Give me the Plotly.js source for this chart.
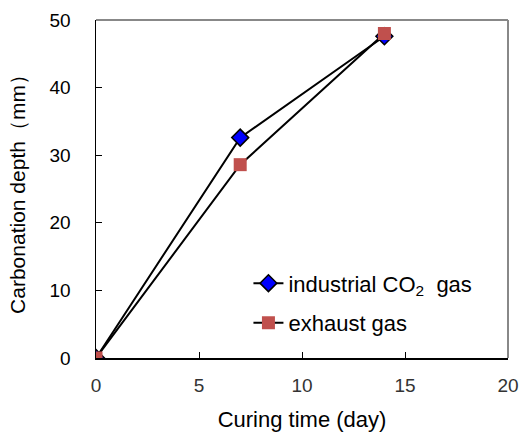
<!DOCTYPE html>
<html><head><meta charset="utf-8">
<script src="https://cdn.plot.ly/plotly-3.0.1.min.js"></script>
<style>body{margin:0}#c{width:519px;height:432px}</style>
</head><body><div id="c"></div>
<script>
const days = [0, 7, 14];
const industrialCO2 = [0, 32.6, 47.6];
const exhaustGas = [0, 28.6, 48.0];
const seriesNames = ['industrial CO<sub>2</sub>  gas', 'exhaust gas'];

const fam = 'Arial, "Liberation Sans", sans-serif';
const traces = [
  {x: days, y: industrialCO2, name: seriesNames[0], mode: 'lines+markers', legendgroup: 'a',
   line: {color: '#000', width: 2},
   marker: {symbol: 'diamond', size: 13, color: '#0000FF', line: {color: '#000', width: 1.5}}},
  {x: days, y: exhaustGas, name: seriesNames[1], mode: 'lines+markers', legendgroup: 'b',
   line: {color: '#000', width: 2},
   marker: {symbol: 'square', size: 13, color: '#C0504D', line: {width: 0}}}
];
const layout = {
  width: 519, height: 432,
  margin: {l: 96, r: 11, t: 20, b: 74},
  paper_bgcolor: '#fff', plot_bgcolor: '#fff',
  font: {family: fam, size: 19, color: '#000'},
  showlegend: true,
  legend: {x: 0.37, y: 0.283, xanchor: 'left', yanchor: 'top', bgcolor: 'rgba(0,0,0,0)',
           font: {family: fam, size: 22, color: '#000'}, tracegroupgap: 8},
  xaxis: {range: [0, 20], dtick: 5, ticks: 'inside', ticklen: 6, tickcolor: '#000',
          showgrid: false, zeroline: false, showline: true, linecolor: '#000', linewidth: 1.5,
          ticklabelstandoff: 10,
          tickfont: {family: fam, size: 19, color: '#333'},
          title: {text: 'Curing time (day)', standoff: 18, font: {family: fam, size: 22, color: '#000'}}},
  yaxis: {range: [0, 50], dtick: 10, ticks: 'inside', ticklen: 6, tickcolor: '#000',
          showgrid: false, zeroline: false, showline: true, linecolor: '#000', linewidth: 1.5,
          ticklabelstandoff: 20,
          tickfont: {family: fam, size: 19, color: '#000'},
          title: {text: 'Carbonation depth（mm）', standoff: 18, font: {family: fam, size: 21, color: '#000'}}},
  shapes: [
    {type: 'line', xref: 'paper', yref: 'paper', x0: 0, x1: 1, y0: 1, y1: 1, line: {color: '#888', width: 2}},
    {type: 'line', xref: 'paper', yref: 'paper', x0: 1, x1: 1, y0: 0, y1: 1, line: {color: '#888', width: 2}}
  ]
};
Plotly.newPlot('c', traces, layout, {displayModeBar: false, staticPlot: true});
</script></body></html>
